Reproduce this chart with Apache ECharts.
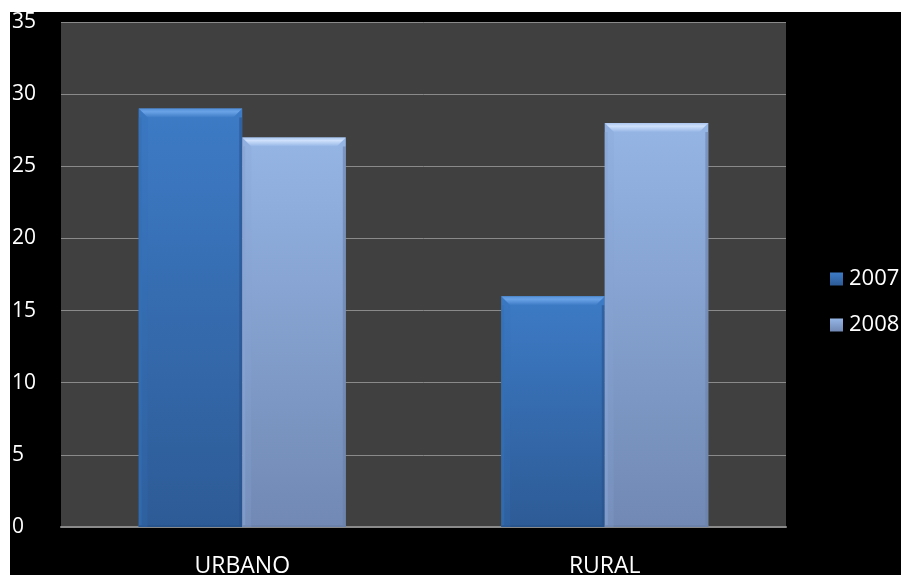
<!DOCTYPE html>
<html>
<head>
<meta charset="utf-8">
<script src="https://cdn.jsdelivr.net/npm/echarts@6/dist/echarts.min.js"></script>
<style>
  html, body { margin: 0; padding: 0; background: #ffffff; overflow: hidden; }
  #chart { position: absolute; left: 10px; top: 12px; width: 891px; height: 563px; background: #000000; }
</style>
</head>
<body>
<div id="chart"></div>
<script>
// Categories and yearly values
const categories = ['URBANO', 'RURAL'];
const seriesNames = ['2007', '2008'];
const values2007 = [29, 16];
const values2008 = [27, 28];
const yTicks = [0, 5, 10, 15, 20, 25, 30, 35];

// Bevelled bar palettes (body gradient top/bottom, bevel highlight, edges)
const palettes = [
  { top: '#3d7bc6', bottom: '#2d5b96', bevel: '#6aa2e6', bevelEdge: '#5590d8', side: '#3470b6', shade: '#28528a' },
  { top: '#95b5e5', bottom: '#7189b4', bevel: '#cfe1fc', bevelEdge: '#aac6f0', side: '#86a4d4', shade: '#6a80a8' }
];

function makeGradient(p) {
  return new echarts.graphic.LinearGradient(0, 0, 0, 1, [
    { offset: 0, color: p.top },
    { offset: 1, color: p.bottom }
  ]);
}

function renderBar(params, api) {
  const idx = api.value(0);
  const val = api.value(1);
  const base = api.coord([idx, 0]);
  const topPt = api.coord([idx, val]);
  const band = api.size([1, 0])[0];
  const barW = band / 3.5;
  const x = base[0] - barW + params.seriesIndex * barW;
  const y = topPt[1];
  const h = base[1] - topPt[1];
  const w = barW;
  const b = Math.min(9, h / 2);
  const s = 3;
  const p = palettes[params.seriesIndex];
  return {
    type: 'group',
    children: [
      { type: 'rect', shape: { x: x, y: y, width: w, height: h }, style: { fill: makeGradient(p) } },
      { type: 'polygon', shape: { points: [[x, y + b], [x + s, y + b], [x + s, y + h - 2], [x, y + h]] }, style: { fill: p.side, opacity: 0.6 } },
      { type: 'polygon', shape: { points: [[x + w, y + b], [x + w - s, y + b], [x + w - s, y + h - 2], [x + w, y + h]] }, style: { fill: p.shade, opacity: 0.6 } },
      { type: 'rect', shape: { x: x, y: y + h - 2, width: w, height: 2 }, style: { fill: p.shade, opacity: 0.7 } },
      { type: 'polygon', shape: { points: [[x, y], [x + w, y], [x + w - b, y + b], [x + b, y + b]] },
        style: { fill: new echarts.graphic.LinearGradient(0, 0, 0, 1, [
          { offset: 0, color: p.bevelEdge }, { offset: 0.35, color: p.bevel }, { offset: 1, color: p.top }
        ]) } },
      { type: 'polygon', shape: { points: [[x, y], [x + b, y + b], [x + b, y + h], [x, y + h]] }, style: { fill: p.side, opacity: 0.25 } }
    ]
  };
}

const seriesValues = [values2007, values2008];

const chart = echarts.init(document.getElementById('chart'), null, { renderer: 'canvas' });
chart.setOption({
  backgroundColor: '#000000',
  animation: false,
  textStyle: { fontFamily: 'Open Sans' },
  grid: {
    left: 51, top: 10, width: 725, height: 505,
    outerBoundsMode: 'none', containLabel: false,
    show: true, backgroundColor: '#404040', borderWidth: 0
  },
  legend: {
    orient: 'vertical',
    left: 815,
    top: 251,
    itemWidth: 13,
    itemHeight: 13,
    itemGap: 24,
    icon: 'rect',
    data: seriesNames,
    textStyle: { color: '#ffffff', fontSize: 22, fontFamily: 'Open Sans', padding: [0, 0, 0, 1] }
  },
  xAxis: {
    type: 'category',
    data: categories,
    axisLine: { show: true, lineStyle: { color: '#8a8a8a', width: 2 } },
    axisTick: { show: false },
    axisLabel: { color: '#ffffff', fontSize: 23, margin: 28, fontFamily: 'Open Sans' },
    splitLine: { show: false }
  },
  yAxis: {
    type: 'value',
    min: yTicks[0],
    max: yTicks[yTicks.length - 1],
    interval: yTicks[1] - yTicks[0],
    axisLine: { show: false },
    axisTick: { show: false },
    axisLabel: { color: '#ffffff', fontSize: 21, align: 'left', margin: 49, fontFamily: 'Open Sans' },
    splitLine: { show: true, lineStyle: { color: '#8a8a8a', width: 1 } }
  },
  series: seriesNames.map((name, i) => ({
    name: name,
    type: 'custom',
    renderItem: renderBar,
    itemStyle: { color: makeGradient(palettes[i]) },
    encode: { x: 0, y: 1 },
    data: seriesValues[i].map((v, c) => [c, v]),
    z: 3
  }))
});
</script>
</body>
</html>
